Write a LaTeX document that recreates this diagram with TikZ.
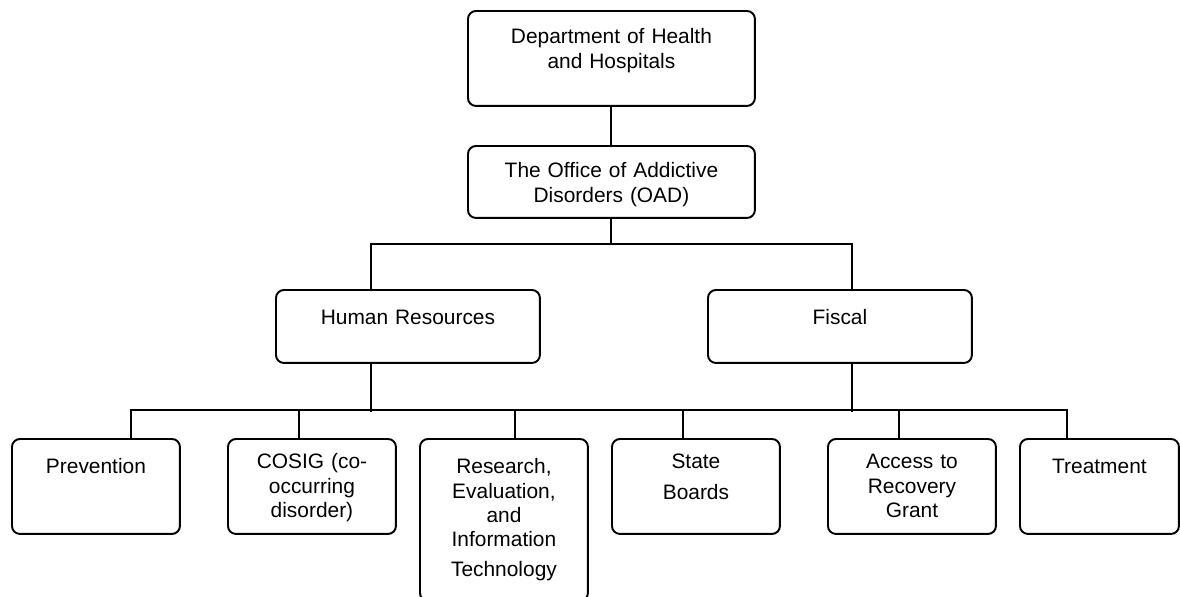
\documentclass[tikz,border=0pt]{standalone}
\usepackage{fontspec}
\setmainfont{Liberation Sans}
\usetikzlibrary{calc}

\begin{document}
\begin{tikzpicture}[x=0.02cm, y=-0.02cm,
    orgbox/.style={draw, line width=1.1pt, rounded corners=0.16cm, inner sep=0pt,
      anchor=north west, align=center, font=\fontsize{11.9}{13.7}\selectfont},
    wide/.style={orgbox, text width=5.74cm},
    mid/.style={orgbox, text width=5.28cm, text height=0.7cm, text depth=0.76cm},
    low/.style={orgbox, text width=3.36cm, text height=0.7cm, text depth=1.2cm},
    tight/.style={text height=0.6cm, text depth=1.3cm},
    link/.style={line width=1.1pt}]
  \useasboundingbox (0,0) rectangle (1180,596);
  % top of the chart
  \node[wide, text height=0.66cm, text depth=1.24cm] (dhh) at (467,10) {Department of Health\\and Hospitals};
  \node[wide, text height=0.64cm, text depth=0.8cm] (oad) at (467,145) {The Office of Addictive\\Disorders (OAD)};
  \node[mid] (hr) at (275,289) {Human Resources};
  \node[mid] (fiscal) at (707,289) {Fiscal};
  % units
  \node[low] (prev) at (11,438) {Prevention};
  \node[low, tight] (cosig) at (227,438) {COSIG (co-\\occurring\\disorder)};
  \node[low, text depth=2.54cm] (ret) at (419,438) {Research,\\Evaluation,\\and\\Information\\[0.12cm]Technology};
  \node[low, tight] (state) at (611,438) {State\\[0.12cm]Boards};
  \node[low, tight] (atr) at (827,438) {Access to\\Recovery\\Grant};
  \node[low, text width=3.18cm] (treat) at (1019,438) {Treatment};
  % connectors
  \draw[link] (dhh) -- (oad);
  \draw[link] (oad.south) -- ++(0,25) coordinate (upbus);
  \draw[link] ($(hr.north west)+(96,0)$) |- (upbus) -| ($(fiscal.north west)+(145,0)$);
  \draw[link] ($(hr.south west)+(96,0)$) -- ++(0,48) coordinate (lowbus);
  \draw[link] ($(fiscal.south west)+(145,0)$) -- ++(0,48);
  \draw[link] ($(prev.north west)+(120,0)$) |- ($(treat.north west)+(48,-28)$) -- ($(treat.north west)+(48,0)$);
  \foreach \n/\dx in {cosig/72, ret/96, state/72, atr/72}
    \draw[link] ($(\n.north west)+(\dx,0)$) -- ++(0,-28);
\end{tikzpicture}
\end{document}
